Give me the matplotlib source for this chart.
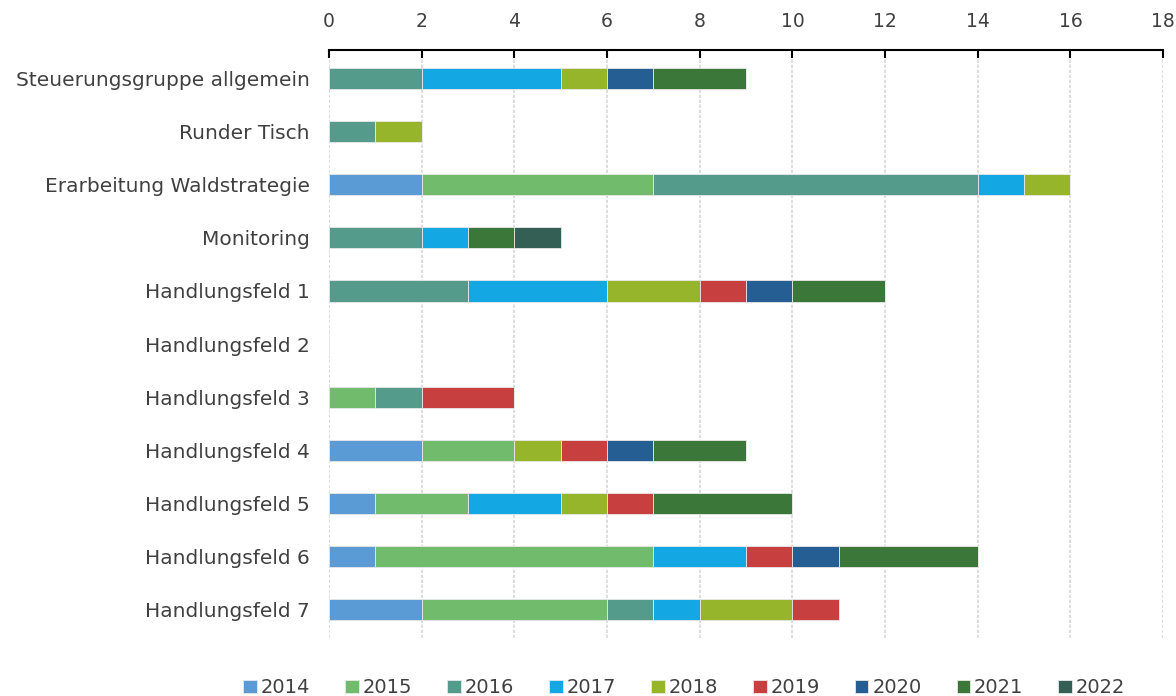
import matplotlib
matplotlib.use("Agg")
import matplotlib.pyplot as plt
import numpy as np

plt.rcParams["font.family"] = ["DejaVu Sans"]

categories = [
    "Steuerungsgruppe allgemein",
    "Runder Tisch",
    "Erarbeitung Waldstrategie",
    "Monitoring",
    "Handlungsfeld 1",
    "Handlungsfeld 2",
    "Handlungsfeld 3",
    "Handlungsfeld 4",
    "Handlungsfeld 5",
    "Handlungsfeld 6",
    "Handlungsfeld 7",
]
years = ["2014", "2015", "2016", "2017", "2018", "2019", "2020", "2021", "2022"]

# values per year, in category order
v2014 = [0, 0, 2, 0, 0, 0, 0, 2, 1, 1, 2]
v2015 = [0, 0, 5, 0, 0, 0, 1, 2, 2, 6, 4]
v2016 = [2, 1, 7, 2, 3, 0, 1, 0, 0, 0, 1]
v2017 = [3, 0, 1, 1, 3, 0, 0, 0, 2, 2, 1]
v2018 = [1, 1, 1, 0, 2, 0, 0, 1, 1, 0, 2]
v2019 = [0, 0, 0, 0, 1, 0, 2, 1, 1, 1, 1]
v2020 = [1, 0, 0, 0, 1, 0, 0, 1, 0, 1, 0]
v2021 = [2, 0, 0, 1, 2, 0, 0, 2, 3, 3, 0]
v2022 = [0, 0, 0, 1, 0, 0, 0, 0, 0, 0, 0]
series = [v2014, v2015, v2016, v2017, v2018, v2019, v2020, v2021, v2022]

colors = ["#5B9BD5", "#70BB6C", "#549B8B", "#13A8E3", "#97B52A",
          "#C7403F", "#245E93", "#3B7738", "#335F55"]

fig = plt.figure(figsize=(11.76, 6.96), dpi=100)
ax = fig.add_axes([0.2798, 0.0833, 0.7092, 0.8447])

y = np.arange(len(categories))
left = np.zeros(len(categories))
for yr, vals, c in zip(years, series, colors):
    vals = np.array(vals, dtype=float)
    ax.barh(y, vals, left=left, height=0.4, color=c, label=yr,
            edgecolor="#e8e8e8", linewidth=0.6)
    left += vals

ax.set_xlim(0, 18)
ax.set_ylim(len(categories) - 0.47, -0.53)
ax.set_xticks(np.arange(0, 19, 2))
ax.xaxis.tick_top()
ax.set_yticks(y)
ax.set_yticklabels(categories)
ax.tick_params(axis="x", direction="in", length=6, width=1.5, colors="black",
               labelcolor="#404040", labelsize=13.5, pad=14)
ax.tick_params(axis="y", length=0, labelcolor="#404040", labelsize=14.5, pad=14)
for s in ["left", "right", "bottom"]:
    ax.spines[s].set_visible(False)
ax.spines["top"].set_linewidth(1.5)
ax.set_axisbelow(True)
ax.grid(axis="x", color="#d8d8d8", linestyle=(0, (2, 1)), linewidth=1.2)

fig.legend(loc="center", bbox_to_anchor=(0.582, 0.012), ncol=9,
           frameon=False, fontsize=14, handlelength=0.7, handleheight=0.7,
           handletextpad=0.2, columnspacing=1.8, labelcolor="#404040",
           borderpad=0)

fig.savefig("out.png", dpi=100)
